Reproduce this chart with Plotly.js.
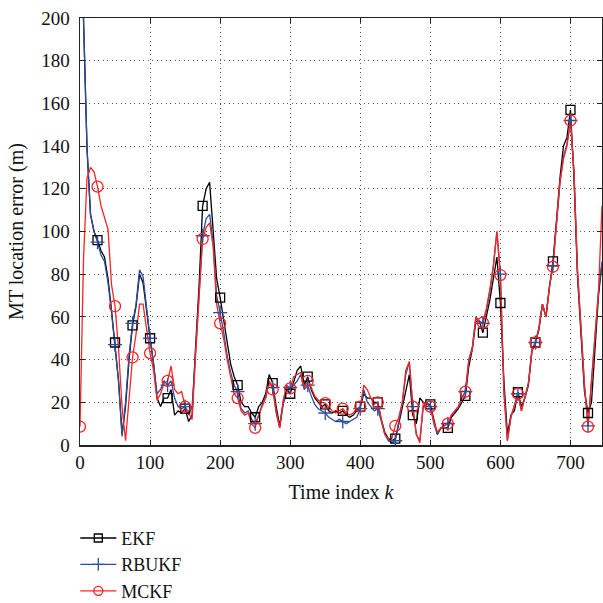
<!DOCTYPE html>
<html>
<head>
<meta charset="utf-8">
<script src="https://cdn.plot.ly/plotly-3.0.1.min.js"></script>
<style>html,body{margin:0;padding:0;background:#fff;}#chart{width:603px;height:603px;}</style>
</head>
<body>
<div id="chart"></div>
<script>
// Time index k (step 5)
const timeIndex = [0,5,10,15,20,25,30,35,40,45,50,55,60,65,70,75,80,85,90,95,
100,105,110,115,120,125,130,135,140,145,150,155,160,165,170,175,180,185,190,195,
200,205,210,215,220,225,230,235,240,245,250,255,260,265,270,275,280,285,290,295,
300,305,310,315,320,325,330,335,340,345,350,355,360,365,370,375,380,385,390,395,
400,405,410,415,420,425,430,435,440,445,450,455,460,465,470,475,480,485,490,495,
500,505,510,515,520,525,530,535,540,545,550,555,560,565,570,575,580,585,590,595,
600,605,610,615,620,625,630,635,640,645,650,655,660,665,670,675,680,685,690,695,
700,705,710,715,720,725,730,735,740,745];

const ekf = [260,205,139,108,100,96,91,88,78,63,48,30,5,18,40,56,65,80,76,62,
50,38,22,18,22,22,26,14,16,15,17,11,14,46,75,112,120,123,100,78,
69,58,48,38,32,28,20,18,18,15,13,18,20,24,33,29,18,9,20,26,
24,30,35,37,28,32,26,22,20,18,19,16,15,16,15,16,14,13,14,16,
18,24,22,22,20,20,12,6,3,2,3,10,18,26,33,14,10,22,20,19,
19,12,5,8,8,8,13,15,17,20,23,37,45,58,58,52.6,60,68,78,88,
66.5,30,5,14,16,24.7,18,22,28,44,48,54,66,60,74,86,105,125,140,144,
157,125,79,50,25,15,20,45,70,85];

const rbukf = [260,205,139,108,100,95,89,86,76,62,47,30,4,20,42,57,66,82,79,64,
50,38,24,26,30,28,30,22,18,17,18,14,18,44,72,98,106,108,95,70,
62,53,42,34,28,25,17,15,16,12,10,14,19,22,30,27,15,8,19,25,
27,28,30,33,26,28,23,19,17,16,15,13,12,11,12,11,10,11,12,13,
17,26,20,18,16,17,11,5,2,1,2,12,20,33,39,18,5,2,18,20,
18,10,5,8,9,10,14,16,18,22,25,40,46,60,58,57,63,72,84,100,
80,25,2,13,18,24,16,22,29,45,48,55,66,60,74,84,104,123,135,141,
152,128,82,55,28,9,30,55,72,86];

const mckf = [8.6,87,125,130,128,121,112,106,101,75,65,45,18,2,22,41,52,66,66,55,
43,35,21,24,29,30,37,26,24,25,18,15,12,42,68,96.5,102,104,93,66,
57,50,40,32,24,22,16,14,15,10,8,14,18,22,30,26,16,8,21,28,
26.5,32,33,34,27,30,27,23,21,20,19.6,18,16,15,16,17,15,14,15,17,
18,28,26,22,19,20,12,5,3,3,9,13,20,35,39,18,5,1,20,19,
18,11,6,8,9,10,14,16,18,22,25,40,45,60,57,57.3,64,73,84,100,
79.6,25,2,13,18,24,16,22,29,44,48,55,66,60,74,83.5,104,123,134,140,
152,128,82,55,28,8.6,30,55,72,112];

const seriesNames = ['EKF','RBUKF','MCKF'];
const xTickVals = [0,100,200,300,400,500,600,700];
const yTickVals = [0,20,40,60,80,100,120,140,160,180,200];

const colors = ['#000000','#2a4d9e','#ff2222'];
const symbols = ['square-open','cross-thin-open','circle-open'];
const msizes = [9,10,11];
const legSizes = [8,9,9];
const allY = [ekf, rbukf, mckf];

const traces = [];
allY.forEach((ys, i) => {
  traces.push({
    x: timeIndex, y: ys, mode: 'lines', type: 'scatter',
    line: {color: colors[i], width: 1.3},
    showlegend: false, hoverinfo: 'skip', cliponaxis: true
  });
});
allY.forEach((ys, i) => {
  const mx = [], my = [];
  timeIndex.forEach((k, j) => { if (k % 25 === 0) { mx.push(k); my.push(ys[j]); } });
  traces.push({
    x: mx, y: my, mode: 'markers', type: 'scatter',
    marker: {symbol: symbols[i], size: msizes[i], color: colors[i], line: {color: colors[i], width: 1.3}},
    showlegend: false, hoverinfo: 'skip', cliponaxis: true
  });
});
seriesNames.forEach((n, i) => {
  traces.push({
    x: [null], y: [null], mode: 'lines+markers', type: 'scatter', name: n,
    line: {color: colors[i], width: 1.3},
    marker: {symbol: symbols[i], size: legSizes[i], color: colors[i], line: {color: colors[i], width: 1.3}}
  });
});

const font = 'Liberation Serif, Times New Roman, serif';
const layout = {
  width: 603, height: 603,
  margin: {l: 79.5, r: 1, t: 18, b: 158},
  paper_bgcolor: '#fff', plot_bgcolor: '#fff',
  font: {family: font, size: 19, color: '#111'},
  showlegend: true,
  legend: {x: -0.009, y: 0.138, xref: 'paper', yref: 'container', xanchor: 'left', yanchor: 'top',
           bgcolor: 'rgba(0,0,0,0)', traceorder: 'normal',
           font: {family: font, size: 18, color: '#111'}, itemwidth: 36},
  xaxis: {
    range: [0, 745], tickvals: xTickVals, ticks: 'inside', ticklen: 5, tickcolor: '#222',
    showline: true, linecolor: '#222', linewidth: 1.5, mirror: 'ticks',
    showgrid: true, gridcolor: '#555', gridwidth: 1, griddash: '1px,3.5px',
    zeroline: false,
    title: {text: 'Time index <i>k</i>', font: {family: font, size: 20, color: '#111'}, standoff: 12},
    tickfont: {family: font, size: 19, color: '#111'}
  },
  yaxis: {
    range: [0, 200], tickvals: yTickVals, ticks: 'inside', ticklen: 5, tickcolor: '#222',
    showline: true, linecolor: '#222', linewidth: 1.5, mirror: 'ticks',
    showgrid: true, gridcolor: '#555', gridwidth: 1, griddash: '1px,3.5px',
    zeroline: false, ticklabelstandoff: 5,
    title: {text: 'MT location error (m)', font: {family: font, size: 20, color: '#111'}, standoff: 12},
    tickfont: {family: font, size: 19, color: '#111'}
  }
};
Plotly.newPlot('chart', traces, layout, {displayModeBar: false, staticPlot: true});
</script>
</body>
</html>
